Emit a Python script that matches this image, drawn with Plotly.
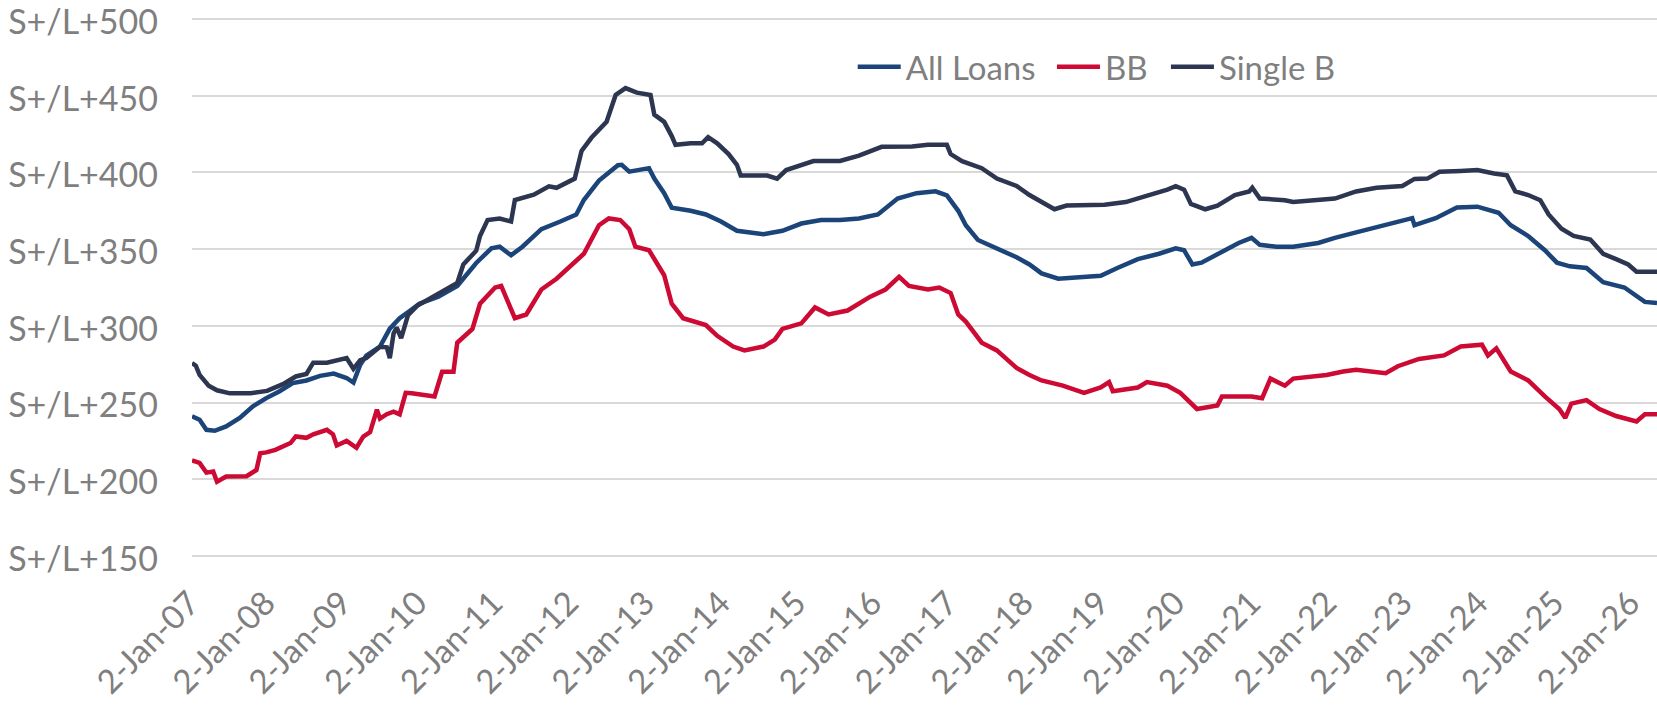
import pandas as pd
import plotly.graph_objects as go

# Decimal years measured from 2-Jan-2007 (2007.00 = 2-Jan-07)
all_year = [2007.00, 2007.10, 2007.19, 2007.30, 2007.45, 2007.63, 2007.80, 2007.98, 2008.15, 2008.33,
            2008.51, 2008.69, 2008.87, 2009.04, 2009.13, 2009.22, 2009.30, 2009.48, 2009.61, 2009.74,
            2009.88, 2010.00, 2010.25, 2010.50, 2010.75, 2010.95, 2011.06, 2011.21, 2011.36, 2011.61,
            2011.86, 2012.07, 2012.17, 2012.37, 2012.62, 2012.67, 2012.77, 2013.03, 2013.10, 2013.23,
            2013.33, 2013.58, 2013.78, 2013.98, 2014.19, 2014.54, 2014.79, 2015.04, 2015.30, 2015.55,
            2015.80, 2016.05, 2016.31, 2016.56, 2016.81, 2016.96, 2017.11, 2017.21, 2017.37, 2017.62,
            2017.88, 2018.05, 2018.21, 2018.43, 2018.77, 2018.99, 2019.21, 2019.48, 2019.76, 2019.98,
            2020.09, 2020.20, 2020.32, 2020.53, 2020.81, 2020.98, 2021.09, 2021.31, 2021.53, 2021.86,
            2022.08, 2022.36, 2022.63, 2022.97, 2023.10, 2023.13, 2023.41, 2023.69, 2023.96, 2024.24,
            2024.40, 2024.63, 2024.85, 2025.01, 2025.18, 2025.40, 2025.62, 2025.90, 2026.06, 2026.17,
            2026.33]
all_val = [241.0, 238.8, 232.2, 231.6, 234.4, 240.0, 247.4, 252.9, 257.2, 262.7,
           264.4, 267.4, 268.9, 266.0, 263.0, 274.7, 280.6, 286.5, 298.2, 305.0,
           310.0, 314.4, 319.0, 326.0, 341.0, 350.5, 351.6, 346.0, 351.6, 363.0,
           368.0, 372.6, 382.0, 394.7, 404.7, 405.0, 400.5, 402.8, 396.0, 386.5,
           377.0, 375.0, 372.6, 368.0, 362.0, 359.8, 362.0, 366.7, 369.0, 369.0,
           370.0, 372.6, 383.0, 386.5, 387.7, 385.0, 375.0, 365.6, 356.0, 350.5,
           344.7, 340.0, 334.2, 330.7, 331.9, 332.6, 337.7, 343.5, 347.0, 350.5,
           349.3, 340.0, 341.2, 347.0, 354.0, 357.4, 352.8, 351.6, 351.6, 354.0,
           357.4, 360.9, 364.4, 369.0, 370.2, 365.6, 370.2, 377.2, 377.7, 373.7,
           365.6, 358.6, 349.3, 341.2, 338.8, 337.7, 328.4, 325.0, 319.0, 315.6,
           314.9]

bb_year = [2007.00, 2007.10, 2007.19, 2007.28, 2007.33, 2007.45, 2007.72, 2007.85, 2007.90, 2007.98,
           2008.10, 2008.30, 2008.37, 2008.51, 2008.60, 2008.78, 2008.86, 2008.91, 2009.04, 2009.13,
           2009.17, 2009.26, 2009.35, 2009.44, 2009.48, 2009.57, 2009.66, 2009.74, 2009.82, 2009.90,
           2010.20, 2010.30, 2010.45, 2010.50, 2010.70, 2010.80, 2011.00, 2011.08, 2011.26, 2011.41,
           2011.61, 2011.81, 2011.97, 2012.17, 2012.37, 2012.50, 2012.65, 2012.77, 2012.85, 2013.03,
           2013.23, 2013.33, 2013.48, 2013.78, 2013.93, 2014.14, 2014.29, 2014.54, 2014.69, 2014.79,
           2015.04, 2015.22, 2015.40, 2015.65, 2015.95, 2016.15, 2016.33, 2016.46, 2016.71, 2016.86,
           2017.01, 2017.11, 2017.21, 2017.42, 2017.62, 2017.88, 2018.05, 2018.21, 2018.49, 2018.77,
           2018.99, 2019.10, 2019.15, 2019.48, 2019.60, 2019.87, 2020.04, 2020.26, 2020.53, 2020.59,
           2020.98, 2021.12, 2021.23, 2021.42, 2021.53, 2021.97, 2022.19, 2022.36, 2022.75, 2022.91,
           2023.19, 2023.52, 2023.74, 2024.02, 2024.10, 2024.21, 2024.40, 2024.63, 2024.85, 2025.04,
           2025.12, 2025.20, 2025.40, 2025.57, 2025.79, 2026.06, 2026.17, 2026.33]
bb_val = [212.3, 210.6, 204.3, 205.0, 198.4, 201.8, 202.0, 206.0, 217.0, 217.5,
          219.2, 223.6, 227.9, 227.0, 229.3, 232.2, 229.3, 222.0, 225.0, 222.0,
          220.5, 227.8, 230.7, 245.4, 239.5, 242.4, 244.0, 242.3, 256.3, 256.0,
          254.0, 270.0, 270.0, 289.0, 298.0, 314.4, 325.0, 326.0, 305.0, 307.4,
          323.7, 330.7, 337.7, 347.0, 365.6, 370.0, 369.0, 363.0, 351.6, 349.3,
          333.0, 314.4, 305.0, 300.5, 293.5, 286.5, 284.0, 286.5, 291.0, 298.0,
          301.6, 312.0, 307.4, 310.0, 319.0, 323.7, 331.9, 326.0, 323.7, 325.0,
          321.4, 307.4, 302.8, 289.0, 284.0, 272.6, 268.0, 264.4, 261.0, 256.3,
          259.8, 263.3, 257.4, 259.8, 263.3, 261.0, 256.3, 245.8, 248.1, 254.0,
          254.0, 252.8, 265.6, 261.0, 265.6, 268.0, 270.2, 271.4, 269.1, 273.7,
          278.4, 280.7, 286.5, 287.7, 280.7, 285.3, 270.2, 264.4, 254.0, 245.8,
          240.0, 249.3, 251.6, 245.8, 241.2, 237.7, 242.3, 242.3]

sb_year = [2007.00, 2007.05, 2007.10, 2007.16, 2007.22, 2007.33, 2007.50, 2007.77, 2007.99, 2008.20,
           2008.37, 2008.51, 2008.60, 2008.78, 2008.95, 2009.04, 2009.13, 2009.22, 2009.30, 2009.48,
           2009.57, 2009.61, 2009.66, 2009.70, 2009.76, 2009.85, 2009.97, 2010.25, 2010.50, 2010.58,
           2010.75, 2010.80, 2010.90, 2011.06, 2011.21, 2011.26, 2011.51, 2011.71, 2011.81, 2012.05,
           2012.14, 2012.27, 2012.47, 2012.59, 2012.72, 2012.87, 2013.05, 2013.10, 2013.23, 2013.33,
           2013.38, 2013.58, 2013.73, 2013.81, 2013.93, 2014.08, 2014.19, 2014.24, 2014.39, 2014.59,
           2014.72, 2014.84, 2015.20, 2015.55, 2015.80, 2016.10, 2016.50, 2016.71, 2016.96, 2017.01,
           2017.16, 2017.42, 2017.62, 2017.88, 2018.05, 2018.21, 2018.38, 2018.54, 2019.04, 2019.32,
           2019.60, 2019.87, 2019.98, 2020.09, 2020.18, 2020.37, 2020.53, 2020.76, 2020.95, 2020.99,
           2021.09, 2021.42, 2021.53, 2021.86, 2022.08, 2022.36, 2022.63, 2022.97, 2023.13, 2023.30,
           2023.46, 2023.74, 2023.96, 2024.18, 2024.35, 2024.46, 2024.63, 2024.79, 2024.90, 2025.07,
           2025.23, 2025.45, 2025.62, 2025.79, 2025.95, 2026.06, 2026.33]
sb_val = [275.7, 274.0, 268.0, 265.0, 261.0, 258.0, 256.0, 256.0, 257.6, 262.0,
          267.0, 268.6, 276.0, 276.0, 277.6, 279.0, 272.0, 277.6, 279.0, 286.4,
          286.0, 279.0, 295.0, 299.0, 292.0, 307.0, 313.0, 321.0, 328.0, 340.0,
          349.0, 358.6, 369.0, 370.0, 368.0, 382.0, 385.5, 391.0, 390.0, 396.0,
          414.0, 422.6, 433.0, 450.5, 455.0, 452.0, 450.5, 437.7, 433.0, 423.7,
          418.0, 419.0, 419.0, 423.0, 419.0, 412.0, 405.0, 398.0, 398.0, 398.0,
          396.0, 401.6, 407.4, 407.5, 411.0, 416.7, 417.0, 418.0, 418.0, 412.0,
          407.4, 402.8, 396.0, 391.2, 385.3, 380.7, 376.0, 378.4, 379.0, 380.7,
          384.7, 388.8, 391.0, 388.8, 379.5, 376.0, 378.4, 385.3, 387.6, 390.0,
          383.0, 381.9, 380.7, 382.3, 383.0, 387.6, 390.0, 391.2, 395.8, 396.0,
          400.5, 401.0, 401.6, 399.3, 398.1, 387.7, 385.3, 381.9, 372.6, 363.3,
          358.6, 356.3, 347.0, 343.5, 340.0, 335.3, 335.3]

tick_years = list(range(2007, 2027))
y_ticks = [150, 200, 250, 300, 350, 400, 450, 500]
x_end_year = 2026.33

START = pd.Timestamp("2007-01-02")


def to_dates(years):
    return [START + pd.Timedelta(days=(y - 2007.0) * 365.25) for y in years]


tick_vals = [pd.Timestamp(year=y, month=1, day=2) for y in tick_years]
tick_text = ["2-Jan-%02d" % (y % 100) for y in tick_years]

FONT = "Lato, 'Open Sans', sans-serif"
GREY = "#7F7F7F"

fig = go.Figure()
series = [
    ("All Loans", all_year, all_val, "#1B4479", "legend", 0.4510),
    ("BB", bb_year, bb_val, "#CC0A33", "legend2", 0.5870),
    ("Single B", sb_year, sb_val, "#2D3651", "legend3", 0.6648),
]
legend_cfg = {}
for name, yrs, vals, col, lg, lx in series:
    fig.add_trace(go.Scatter(x=to_dates(yrs), y=vals, mode="lines", name=name,
                             line=dict(color=col, width=4.5), legend=lg))
    legend_cfg[lg] = dict(orientation="h", x=lx, y=0.9066, xanchor="left", yanchor="middle",
                          itemwidth=43, font=dict(size=33, color=GREY, family=FONT),
                          bgcolor="rgba(0,0,0,0)")

fig.update_layout(
    width=1657, height=706,
    margin=dict(l=192, r=0, t=16, b=147, autoexpand=False),
    paper_bgcolor="white", plot_bgcolor="white",
    font=dict(family=FONT, color=GREY, size=34),
    showlegend=True,
    xaxis=dict(type="date", range=[START, to_dates([x_end_year])[0]],
               tickmode="array", tickvals=tick_vals, ticktext=tick_text, tickangle=-45,
               showgrid=False, zeroline=False, showline=False, ticks="", automargin=False,
               ticklabelstandoff=17, ticklabelshift=-2, ticklabeloverflow="allow",
               tickfont=dict(size=33, color=GREY, family=FONT)),
    yaxis=dict(range=[148, 502], tickmode="array", tickvals=y_ticks,
               ticktext=["S+/L+%d" % v for v in y_ticks],
               showgrid=True, gridcolor="#D9D9D9", gridwidth=1.5, zeroline=False,
               showline=False, ticks="", ticklabelstandoff=33, ticklabelshift=3,
               automargin=False, ticklabeloverflow="allow",
               tickfont=dict(size=34, color=GREY, family=FONT)),
    **legend_cfg,
)

fig.write_html("out.html", config={"displayModeBar": False},
               post_script="document.body.style.margin='0';document.body.style.overflow='hidden';")
